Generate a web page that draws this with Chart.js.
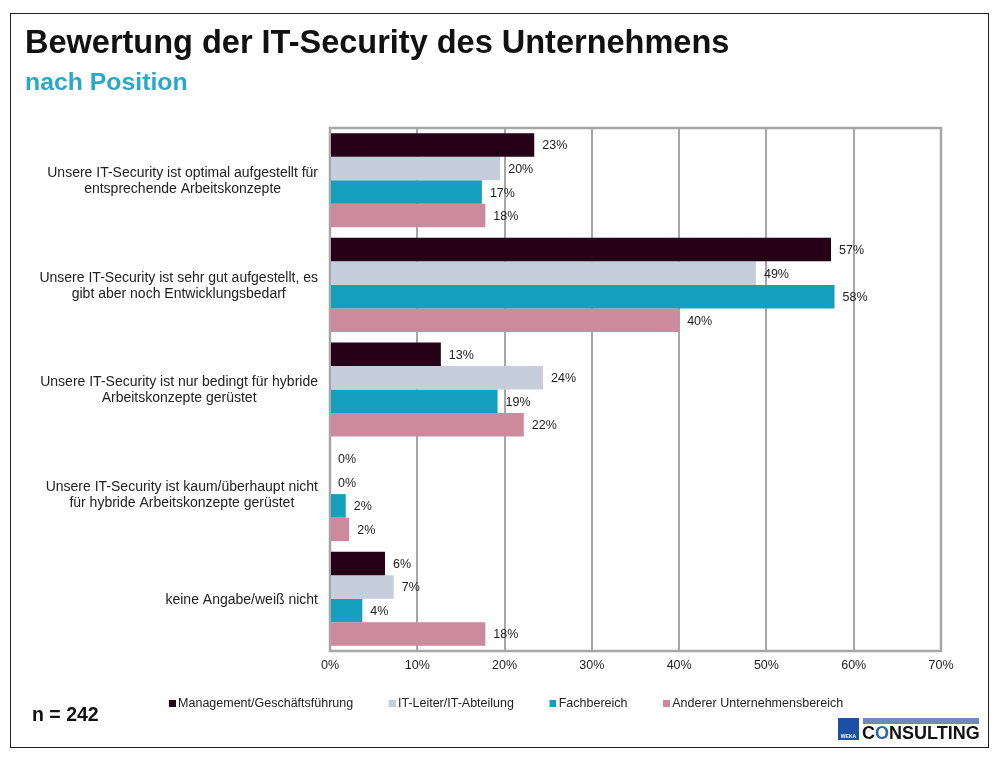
<!DOCTYPE html>
<html lang="de"><head><meta charset="utf-8">
<script src="https://cdn.jsdelivr.net/npm/chart.js@4"></script>
<style>
html,body{margin:0;padding:0;background:#fff;}
#wrap{position:relative;width:1000px;height:760px;overflow:hidden;font-family:"Liberation Sans",Arial,sans-serif;}
#frame{position:absolute;left:10px;top:13px;width:977px;height:733px;border:1px solid #222;box-sizing:content-box;}
canvas{position:absolute;left:0;top:0;}
.t{position:absolute;white-space:nowrap;}
#title{left:25px;top:24px;font-size:32.5px;font-weight:700;color:#111;}
#sub{left:25px;top:68px;font-size:24.8px;font-weight:700;color:#2aa8c9;}
#n{left:32px;top:703px;font-size:19.5px;font-weight:700;color:#111;}
#sq{position:absolute;left:838px;top:718px;width:21px;height:22px;background:#1c4fa6;}
#weka{position:absolute;left:838px;top:733px;width:21px;text-align:center;font-size:5px;font-weight:700;color:#fff;}
#bar{position:absolute;left:863px;top:718px;width:116px;height:6px;background:#6f89ba;}
#cons{left:862px;top:723px;font-size:18px;font-weight:700;color:#111;}
#cons span{color:#2f66b0;}
</style></head><body>
<div id="wrap">
<div id="frame"></div>
<canvas id="c" width="1000" height="760"></canvas>
<div class="t" id="title">Bewertung der IT-Security des Unternehmens</div>
<div class="t" id="sub">nach Position</div>
<div class="t" id="n">n = 242</div>
<div id="sq"></div><div class="t" id="weka">WEKA</div>
<div id="bar"></div><div class="t" id="cons">C<span>O</span>NSULTING</div>
</div>
<script>
const categories = [
  ["Unsere IT-Security ist optimal aufgestellt für","entsprechende Arbeitskonzepte"],
  ["Unsere IT-Security ist sehr gut aufgestellt, es","gibt aber noch Entwicklungsbedarf"],
  ["Unsere IT-Security ist nur bedingt für hybride","Arbeitskonzepte gerüstet"],
  ["Unsere IT-Security ist kaum/überhaupt nicht","für hybride Arbeitskonzepte gerüstet"],
  ["keine Angabe/weiß nicht"]
];
const management = [23.4, 57.4, 12.7, 0, 6.3];
const itLeiter = [19.5, 48.8, 24.4, 0, 7.3];
const fachbereich = [17.4, 57.8, 19.2, 1.8, 3.7];
const andererBereich = [17.8, 40.0, 22.2, 2.2, 17.8];
const FONT = '"Liberation Sans", Arial, sans-serif';

function legendMark(color){
  const m = document.createElement('canvas');
  m.width = 15; m.height = 7;
  const g = m.getContext('2d');
  g.fillStyle = color; g.fillRect(8,0,7,7);
  return m;
}
const frame = {
  id:'frame',
  beforeDatasetsDraw(ch){
    const a = ch.chartArea, g = ch.ctx;
    g.save(); g.strokeStyle='#a6a6a6'; g.lineWidth=2.5;
    g.strokeRect(a.left, a.top, a.right-a.left, a.bottom-a.top);
    g.restore();
  }
};
const labels = {
  id:'labels',
  afterLayout(ch){ ch.legend.top -= 14; ch.legend.bottom -= 14; },
  afterDatasetsDraw(ch){
    const g = ch.ctx;
    g.save();
    g.font = '12.5px '+FONT; g.fillStyle='#222'; g.textBaseline='middle'; g.textAlign='left';
    ch.data.datasets.forEach((ds,i)=>{
      ch.getDatasetMeta(i).data.forEach((el,j)=>{
        g.fillText(Math.round(ds.data[j])+'%', el.x+8, el.y+1);
      });
    });
    const ys = ch.scales.y;
    g.font = '14px '+FONT; g.fillStyle='#222'; g.textAlign='center';
    categories.forEach((lines,j)=>{
      const w = Math.max(...lines.map(l=>g.measureText(l).width));
      const cx = 318 - w/2, y0 = ys.getPixelForTick(j) + 1 - (lines.length-1)*8;
      lines.forEach((l,k)=>g.fillText(l, cx, y0+k*16));
    });
    g.restore();
  }
};
new Chart(document.getElementById('c'),{
  type:'bar',
  data:{labels:categories.map(c=>c.join(' ')),datasets:[
    {label:'Management/Geschäftsführung',data:management,backgroundColor:'#260016'},
    {label:'IT-Leiter/IT-Abteilung',data:itLeiter,backgroundColor:'#c6cedb'},
    {label:'Fachbereich',data:fachbereich,backgroundColor:'#14a0bd'},
    {label:'Anderer Unternehmensbereich',data:andererBereich,backgroundColor:'#cc8a9c'}
  ]},
  options:{
    indexAxis:'y',responsive:false,animation:false,devicePixelRatio:1,
    layout:{padding:{left:67,right:59,top:128,bottom:26}},
    datasets:{bar:{categoryPercentage:0.9,barPercentage:1,borderWidth:0}},
    plugins:{
      title:{display:false},tooltip:{enabled:false},
      legend:{position:'bottom',align:'center',
        labels:{usePointStyle:true,pointStyleWidth:7,boxWidth:7,boxHeight:7,padding:31.5,font:{family:FONT,size:12.5},color:'#222',
          generateLabels(ch){
            return Chart.defaults.plugins.legend.labels.generateLabels(ch).map(it=>{
              it.pointStyle = legendMark(it.fillStyle);
              return it;
            });
          }},
      }
    },
    scales:{
      x:{min:0,max:70,
        ticks:{stepSize:10,callback:v=>v+'%',color:'#222',font:{family:FONT,size:12.5},padding:7,maxRotation:0},
        grid:{color:'#a6a6a6',lineWidth:2,drawTicks:false},border:{display:false}},
      y:{afterFit(s){s.width=263;},ticks:{display:false},grid:{display:false},border:{display:false}}
    }
  },
  plugins:[frame,labels]
});
</script>
</body></html>
